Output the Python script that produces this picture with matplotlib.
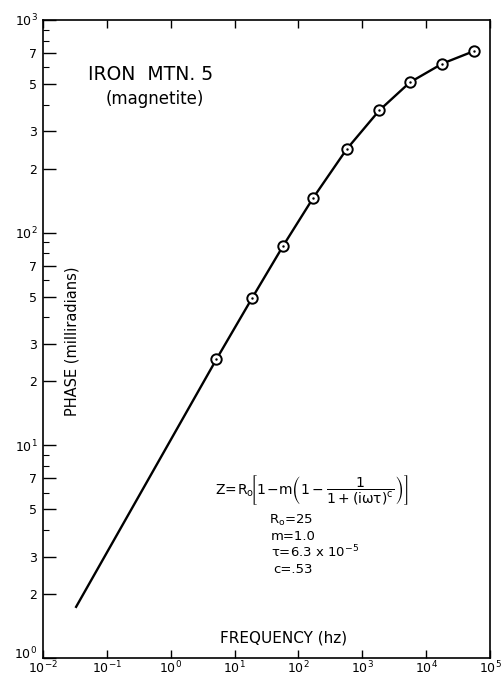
import matplotlib
matplotlib.use("Agg")
import matplotlib.pyplot as plt
from matplotlib.transforms import ScaledTranslation

# measured points (circles)
freq = [5.2, 19, 58, 171, 570, 1850, 5560, 18000, 56000]
phase = [25.4, 49.5, 87, 146, 247, 376, 509, 624, 714]

# line starts further left (no circle there)
line_freq = [0.033] + freq
line_phase = [1.74] + phase

y_major = [1, 2, 3, 5, 7, 10, 20, 30, 50, 70, 100, 200, 300, 500, 700, 1000]
y_major_labels = ['$10^0$', '2', '3', '5', '7', '$10^1$', '2', '3', '5', '7',
                  '$10^2$', '2', '3', '5', '7', '$10^3$']
y_minor = [4, 6, 8, 9, 40, 60, 80, 90, 400, 600, 800, 900]
x_major = [1e-2, 1e-1, 1e0, 1e1, 1e2, 1e3, 1e4, 1e5]
x_labels = ['$10^{-2}$', '$10^{-1}$', '$10^0$', '$10^1$', '$10^2$', '$10^3$', '$10^4$', '$10^5$']

plt.rcParams['font.family'] = 'DejaVu Sans'
plt.rcParams['mathtext.fontset'] = 'dejavusans'
plt.rcParams['mathtext.default'] = 'regular'

fig = plt.figure(figsize=(5.02, 6.77), dpi=100)
ax = fig.add_axes([43 / 502, 1 - 658 / 677, (490 - 43) / 502, (658 - 20) / 677])

ax.plot(line_freq, line_phase, color='black', lw=1.7, zorder=2)
ax.plot(freq, phase, 'o', ms=7.5, mfc='white', mec='black', mew=1.4, zorder=3)
ax.plot(freq, phase, '.', ms=1.5, color='black', zorder=4)

ax.set_xscale('log')
ax.set_yscale('log')
ax.set_xlim(1e-2, 1e5)
ax.set_ylim(1, 1000)

ax.set_yticks(y_major)
ax.set_yticklabels(y_major_labels, fontsize=9)
ax.set_yticks(y_minor, minor=True)
ax.set_yticklabels([], minor=True)
ax.set_xticks(x_major)
ax.set_xticklabels(x_labels, fontsize=9)
ax.xaxis.set_minor_locator(matplotlib.ticker.NullLocator())

ax.tick_params(axis='y', which='major', direction='in', length=9, width=1.0, pad=4)
ax.tick_params(axis='y', which='minor', direction='in', length=4, width=0.8)
ax.tick_params(axis='x', which='major', direction='in', length=6, width=1.0,
               top=True, pad=1)
for s in ax.spines.values():
    s.set_linewidth(1.2)

# nudge the 10^0 label up so it clears the 10^-2 label
lab0 = ax.get_yticklabels()[0]
lab0.set_transform(lab0.get_transform() + ScaledTranslation(0, 4 / 72, fig.dpi_scale_trans))

ax.text(0.1, 0.915, 'IRON  MTN. 5', transform=ax.transAxes, fontsize=13.5, ha='left', va='center')
ax.text(0.14, 0.876, '(magnetite)', transform=ax.transAxes, fontsize=12, ha='left', va='center')
ax.text(0.065, 0.497, 'PHASE (milliradians)', transform=ax.transAxes, fontsize=10.5,
        rotation=90, ha='center', va='center')
ax.text(0.538, 0.031, 'FREQUENCY (hz)', transform=ax.transAxes, fontsize=11,
        ha='center', va='center')

ax.text(0.385, 0.263,
        r'$Z\!=\!R_o\!\left[1\!-\!m\left(1-\dfrac{1}{1+(i\omega\tau)^c}\right)\right]$',
        transform=ax.transAxes, fontsize=10, ha='left', va='center')
ax.text(0.505, 0.215, r'R$_o$=25', transform=ax.transAxes, fontsize=9.5, ha='left', va='center')
ax.text(0.51, 0.191, 'm=1.0', transform=ax.transAxes, fontsize=9.5, ha='left', va='center')
ax.text(0.51, 0.166, r'$\tau$=6.3 x 10$^{-5}$', transform=ax.transAxes, fontsize=9.5, ha='left', va='center')
ax.text(0.515, 0.139, 'c=.53', transform=ax.transAxes, fontsize=9.5, ha='left', va='center')

fig.savefig('out.png', dpi=100)
